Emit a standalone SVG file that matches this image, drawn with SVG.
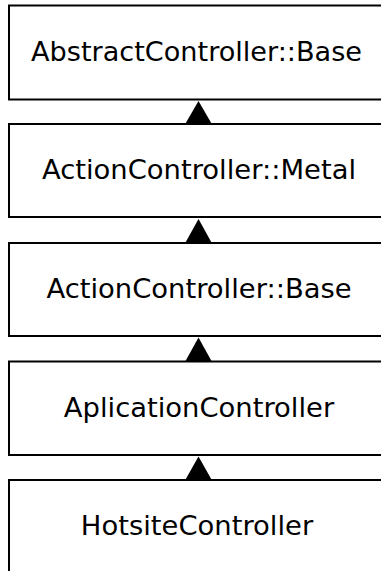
<svg xmlns="http://www.w3.org/2000/svg" width="381" height="571" viewBox="0 0 381 571">
<style>
.box{fill:#fff;stroke:#000;stroke-width:2}
.lbl{font-family:"DejaVu Sans",sans-serif;font-size:27.4px;fill:#000;text-anchor:middle}
.head{fill:#000;stroke:none}
</style>
<rect x="0" y="0" width="381" height="571" fill="#fff"/>
<g id="n1"><rect class="box" x="9" y="5.5" width="376" height="94"/><text class="lbl" x="196.5" y="61" textLength="331" lengthAdjust="spacingAndGlyphs">AbstractController::Base</text></g>
<g id="n2"><rect class="box" x="9" y="124" width="376" height="93"/><text class="lbl" x="199" y="179">ActionController::Metal</text></g>
<g id="n3"><rect class="box" x="9" y="243" width="376" height="93"/><text class="lbl" x="199" y="298">ActionController::Base</text></g>
<g id="n4"><rect class="box" x="9" y="361.5" width="376" height="93.5"/><text class="lbl" x="199" y="417">AplicationController</text></g>
<g id="n5"><rect class="box" x="9" y="480" width="376" height="120"/><text class="lbl" x="197" y="535">HotsiteController</text></g>
<g id="connectors">
<polygon class="head" points="198.5,101 185.5,123.5 211.5,123.5"/>
<polygon class="head" points="198.5,219 185.5,242.5 211.5,242.5"/>
<polygon class="head" points="198.5,337.5 185.5,361 211.5,361"/>
<polygon class="head" points="198.5,456.5 185.5,479.5 211.5,479.5"/>
</g>
</svg>
